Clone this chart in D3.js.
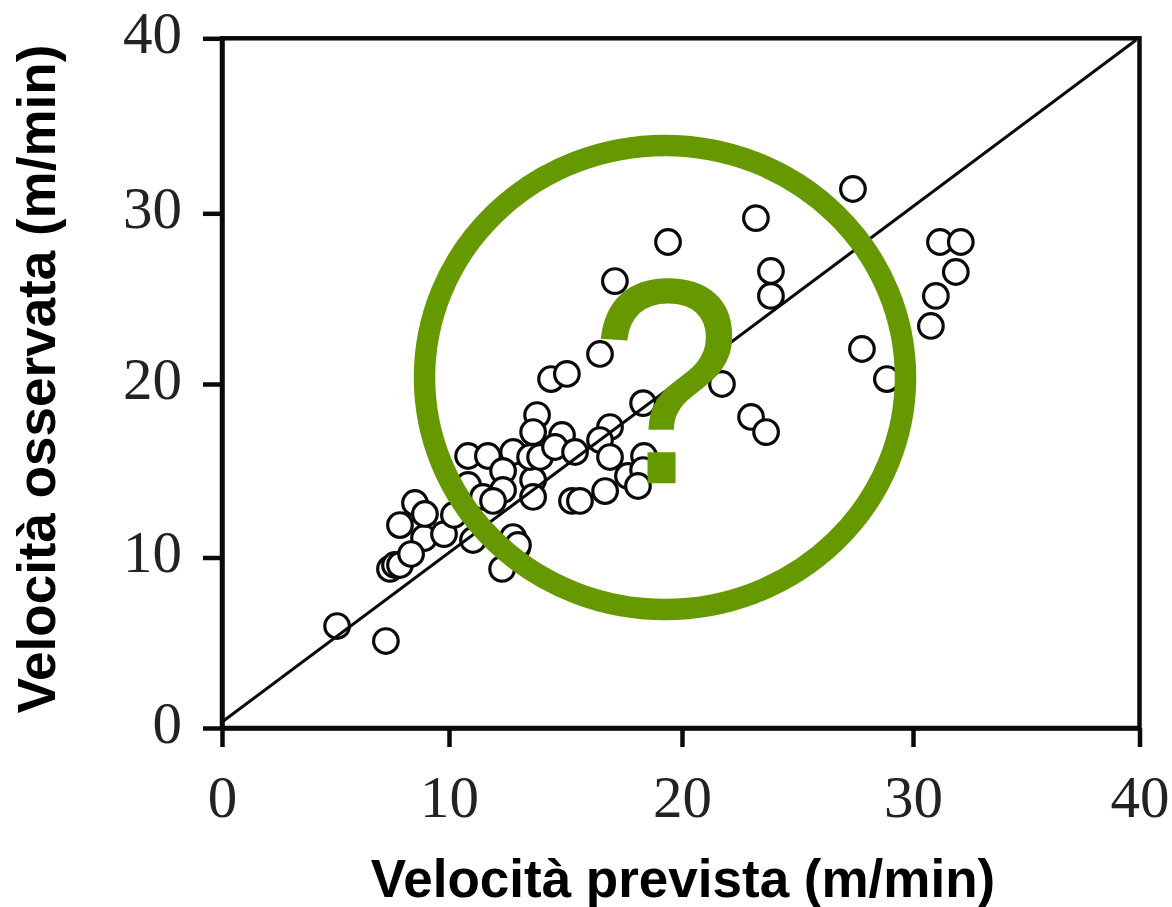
<!DOCTYPE html>
<html><head><meta charset="utf-8">
<style>html,body{margin:0;padding:0;background:#fff}svg{display:block}</style>
<script src="https://cdn.jsdelivr.net/npm/d3@7"></script>
</head><body>
<script>
const tickValues=[0,10,20,30,40];
const xLabel="Velocità prevista (m/min)";
const yLabel="Velocità osservata (m/min)";
const predicted=[5.07,7.22,7.40,7.62,7.84,8.90,8.33,8.50,7.84,8.94,9.78,10.21,11.03,10.82,10.82,11.67,12.75,12.32,12.32,11.46,11.89,13.61,13.61,13.48,13.91,13.78,13.61,14.85,14.55,15.41,15.28,15.62,16.70,17.68,18.37,18.33,16.91,16.48,16.91,18.33,18.11,12.75,12.92,12.28,12.96,14.38,15.06,16.48,17.12,19.40,21.73,23.20,23.85,23.85,22.99,23.64,27.40,27.79,28.87,30.79,31.01,31.19,32.11,31.89];
const observed=[5.98,5.10,9.33,9.56,9.56,11.12,10.20,13.14,11.87,12.51,11.35,12.45,11.01,14.18,15.85,15.85,16.08,14.99,13.89,13.49,13.26,14.47,13.49,15.79,15.79,18.21,17.23,17.06,16.37,16.08,13.26,13.26,13.83,14.70,15.85,15.04,17.52,16.77,15.79,18.90,14.12,11.18,10.55,9.33,10.72,20.29,20.59,21.76,26.03,28.32,20.00,29.72,26.62,25.16,18.10,17.23,31.39,22.05,20.29,23.40,25.16,28.32,28.32,26.56];
const refLineX=[0,39.85];
const refLineY=[0.35,39.9];

const svg=d3.select("body").append("svg").attr("width",1172).attr("height",907);
const x=d3.scaleLinear().domain(tickValues).range([222,449,682,913,1139.5]);
const y=d3.scaleLinear().domain(tickValues).range([728,557.5,384,213.3,38.3]);
const ink="#0a0a0a";

svg.append("rect").attr("x",x(0)).attr("y",y(40)).attr("width",x(40)-x(0)).attr("height",y(0)-y(40))
  .attr("fill","#fff").attr("stroke",ink).attr("stroke-width",4.5);

const pts=predicted.map((d,i)=>[d,observed[i]]);
svg.append("g").selectAll("circle").data(pts).join("circle")
  .attr("cx",d=>x(d[0])).attr("cy",d=>y(d[1])).attr("r",12.3)
  .attr("fill","#fff").attr("stroke",ink).attr("stroke-width",3.2);

svg.append("line").attr("x1",x(refLineX[0])).attr("y1",y(refLineY[0])).attr("x2",x(refLineX[1])).attr("y2",y(refLineY[1]))
  .attr("stroke",ink).attr("stroke-width",3.1);

const xAxis=d3.axisBottom(x).tickValues(tickValues).tickSize(19).tickPadding(28).tickSizeOuter(0);
const gx=svg.append("g").attr("transform",`translate(0,${y(0)})`).call(xAxis);
const yAxis=d3.axisLeft(y).tickValues(tickValues).tickSize(19).tickPadding(21).tickSizeOuter(0);
const gy=svg.append("g").attr("transform",`translate(${x(0)},0)`).call(yAxis);
[gx,gy].forEach(g=>{
  g.selectAll("path").attr("stroke",ink).attr("stroke-width",4.5);
  g.selectAll("line").attr("stroke",ink).attr("stroke-width",4.5);
  g.selectAll("text").attr("font-family","'Liberation Serif',serif").attr("font-size",59).attr("fill","#222");
});
gy.selectAll("text").attr("dy","0.245em");

svg.append("text").attr("x",683).attr("y",897).attr("text-anchor","middle")
  .attr("font-family","'Liberation Sans',Arial,sans-serif").attr("font-weight","bold").attr("font-size",53).attr("fill","#000").text(xLabel);
svg.append("text").attr("transform","translate(55,379) rotate(-90)").attr("text-anchor","middle")
  .attr("font-family","'Liberation Sans',Arial,sans-serif").attr("font-weight","bold").attr("font-size",53).attr("fill","#000").text(yLabel);

svg.append("ellipse").attr("cx",665).attr("cy",377.5).attr("rx",240.5).attr("ry",232).attr("fill","none").attr("stroke","#669900").attr("stroke-width",21.5);
svg.append("text").attr("transform","translate(666,482) scale(0.93,1)").attr("text-anchor","middle")
  .attr("font-family","'Liberation Sans',Arial,sans-serif").attr("font-size",290).attr("fill","#669900")
  .attr("stroke","#669900").attr("stroke-width",2.5).text("?");
</script>
</body></html>
